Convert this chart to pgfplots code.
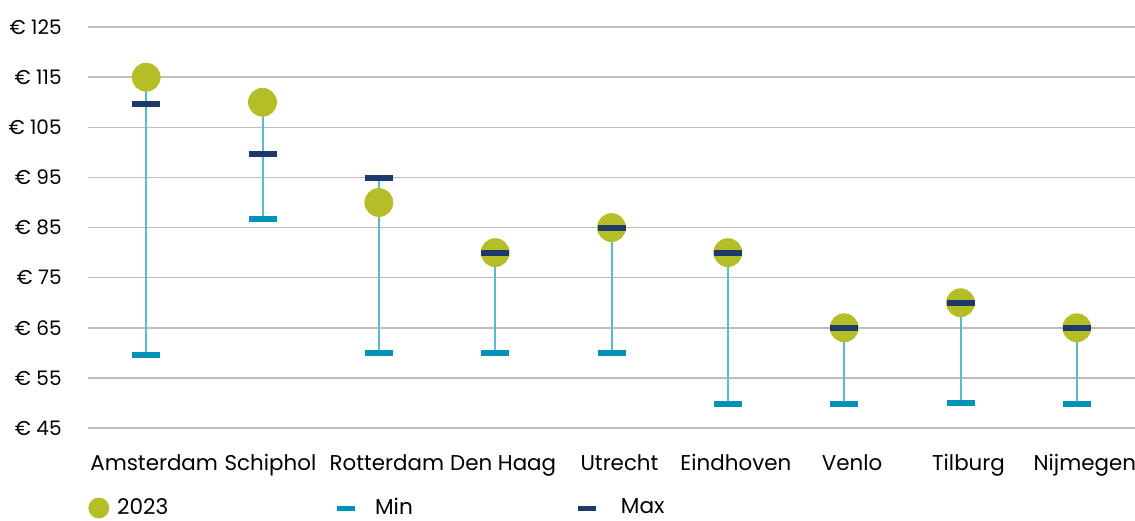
\documentclass[border=0pt]{standalone}
\usepackage{pgfplots}
\pgfplotsset{compat=1.18}
\usepackage{fontspec}
\setmainfont{Poppins}
\definecolor{olv}{HTML}{B5BD27}
\definecolor{tealmin}{HTML}{0093B5}
\definecolor{navymax}{HTML}{1D3A6B}
\definecolor{whisk}{HTML}{5BBCD0}
\definecolor{gridgray}{HTML}{BDBDBD}
\begin{document}
\begin{tikzpicture}
\begin{axis}[
  scale only axis, width=523.5pt, height=213pt,
  xmin=-0.5, xmax=8.5, ymin=45, ymax=130,
  axis line style={draw=none},
  major tick length=0pt,
  ytick={45,55,65,75,85,95,105,115,125},
  yticklabels={€ 45,€ 55,€ 65,€ 75,€ 85,€ 95,€ 105,€ 115,€ 125},
  ymajorgrids, grid style={color=gridgray, line width=0.8pt},
  xtick={0,1,2,3,4,5,6,7,8},
  xticklabels={Amsterdam,Schiphol,Rotterdam,Den Haag,Utrecht,Eindhoven,Venlo,Tilburg,Nijmegen},
  yticklabel style={anchor=east, inner sep=0pt, xshift=-13pt, font=\fontsize{10}{12}\selectfont, text=black},
  xticklabel style={anchor=base, inner sep=0pt, yshift=-21pt, xshift=4pt, font=\fontsize{10.7}{12}\selectfont, text=black},
  legend style={draw=none, fill=none, legend columns=3,
    at={(axis description cs:0,0)}, anchor=west, yshift=-40pt, inner sep=0pt,
    font=\fontsize{10.8}{12}\selectfont},
  legend cell align=left,
  clip=false,
]
\addplot[whisk, line width=1pt, forget plot, unbounded coords=jump] coordinates {
 (0,59.6) (0,115) (0,nan)
 (1,86.8) (1,110) (1,nan)
 (2,60) (2,94.8) (2,nan)
 (3,60) (3,80) (3,nan)
 (4,60) (4,85) (4,nan)
 (5,49.8) (5,80) (5,nan)
 (6,49.8) (6,65) (6,nan)
 (7,50) (7,70) (7,nan)
 (8,49.8) (8,65)
};
\addplot[olv, only marks, mark=*, mark size=7pt, mark options={draw=olv, fill=olv},
  legend image code/.code={\fill[olv] (5pt,0pt) circle (5pt); \path (12pt,0pt);}]
 coordinates {(0,115) (1,110) (2,90) (3,80) (4,85) (5,80) (6,65) (7,70) (8,65)};
\addlegendentry{\makebox[106.5pt][l]{2023}}
\addplot[tealmin, only marks, mark=-, mark size=7pt, mark options={line width=3pt, draw=tealmin},
  legend image code/.code={\draw[tealmin, line width=2.5pt] (0pt,0pt) -- (9pt,0pt); \path (17pt,0pt);}]
 coordinates {(0,59.6) (1,86.8) (2,60) (3,60) (4,60) (5,49.8) (6,49.8) (7,50) (8,49.8)};
\addlegendentry{\makebox[98pt][l]{Min}}
\addplot[navymax, only marks, mark=-, mark size=7pt, mark options={line width=3pt, draw=navymax},
  legend image code/.code={\draw[navymax, line width=2.5pt] (0pt,0pt) -- (9pt,0pt); \path (19.5pt,0pt);}]
 coordinates {(0,109.6) (1,99.6) (2,94.8) (3,80) (4,85) (5,80) (6,65) (7,70) (8,65)};
\addlegendentry{Max}
\end{axis}
\pgfresetboundingbox
\path[use as bounding box] (-44pt,-46pt) rectangle (523.5pt,214pt);
\end{tikzpicture}
\end{document}
